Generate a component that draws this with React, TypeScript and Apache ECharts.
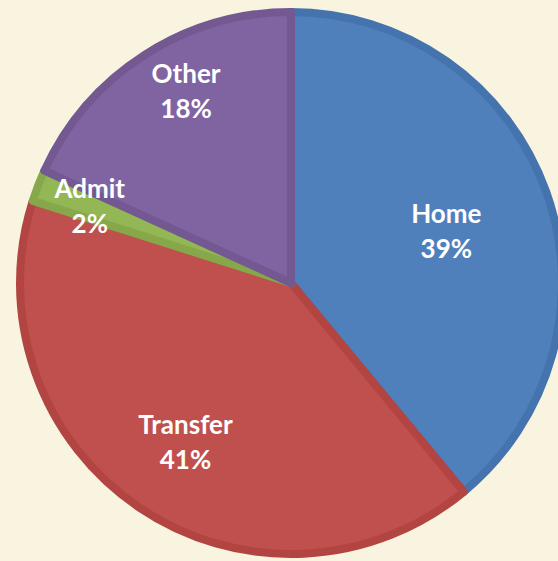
import React, { useEffect, useRef } from "react";
import * as echarts from "echarts";

const categories = ["Home", "Transfer", "Admit", "Other"];
const values = [39, 40.9, 1.9, 18.2];
const fillColors = ["#4f80bc", "#c0504d", "#93b755", "#8064a2"];
const borderColors = ["#4473ad", "#b24541", "#86a84a", "#735892"];
const labelOffsets: [number, number][] = [
  [25, -6],
  [-28, 44],
  [-72, -28],
  [-30, -76],
];

export default function App() {
  const ref = useRef<HTMLDivElement>(null);
  useEffect(() => {
    document.body.style.margin = "0";
    document.body.style.background = "#f8f4e0";
    if (!ref.current) return;
    const chart = echarts.init(ref.current, null, { renderer: "svg" });
    chart.setOption({
      animation: false,
      backgroundColor: "#f8f4e0",
      series: [
        {
          type: "pie",
          center: [291, 283],
          radius: [0, 271],
          startAngle: 90,
          clockwise: true,
          percentPrecision: 0,
          avoidLabelOverlap: false,
          label: {
            show: true,
            position: "inside",
            formatter: "{b}\n{d}%",
            color: "#ffffff",
            fontFamily: "Lato",
            fontWeight: "bold",
            fontSize: 26,
            lineHeight: 35,
            align: "center",
          },
          labelLine: { show: false },
          emphasis: { disabled: true },
          data: categories.map((name, i) => ({
            name,
            value: values[i],
            itemStyle: {
              color: fillColors[i],
              borderColor: borderColors[i],
              borderWidth: 8,
              borderJoin: "round",
            },
            label: { offset: labelOffsets[i] },
          })),
        },
      ],
    });
    return () => chart.dispose();
  }, []);
  return <div ref={ref} style={{ width: 558, height: 561 }} />;
}
